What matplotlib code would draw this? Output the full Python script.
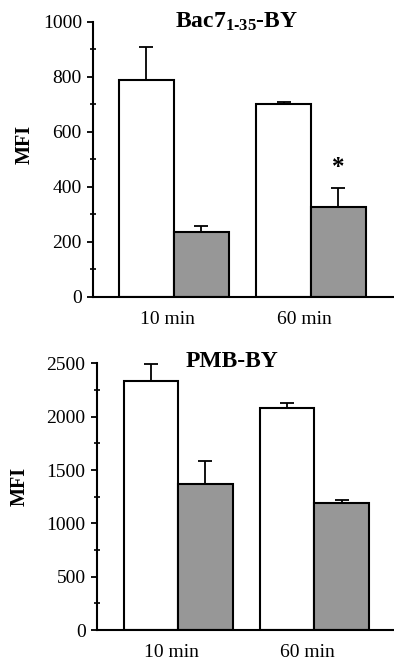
import matplotlib
matplotlib.use("Agg")
import matplotlib.pyplot as plt
import numpy as np
from matplotlib.ticker import MultipleLocator

plt.rcParams['font.family'] = ['Liberation Serif', 'DejaVu Serif']
plt.rcParams['mathtext.fontset'] = 'custom'
plt.rcParams['mathtext.rm'] = 'Liberation Serif'
plt.rcParams['mathtext.bf'] = 'Liberation Serif:bold'
plt.rcParams['mathtext.it'] = 'Liberation Serif:italic'

categories = ["10 min", "60 min"]

# Panel A: Bac7(1-35)-BY
bac_white = [790, 700]
bac_white_err = [120, 9]
bac_gray = [235, 327]
bac_gray_err = [23, 68]
bac_star_value = 472
bac_yticks = [0, 200, 400, 600, 800, 1000]

# Panel B: PMB-BY
pmb_white = [2330, 2085]
pmb_white_err = [160, 45]
pmb_gray = [1370, 1195]
pmb_gray_err = [215, 27]
pmb_yticks = [0, 500, 1000, 1500, 2000, 2500]

fig = plt.figure(figsize=(3.94, 6.6), dpi=100)
ax1 = fig.add_axes([0.236, 0.55, 0.764, 0.4167])
ax2 = fig.add_axes([0.2454, 0.04545, 0.7546, 0.404])

W = 0.4
GRAY = '#979797'


def panel(ax, white, werr, gray, gerr, yticks, minor, xlim, title, tx, ty, lab_xy):
    x = np.arange(len(categories))
    ekw = dict(ecolor='black', elinewidth=1.3, capsize=5, capthick=1.3)
    ax.bar(x - W / 2, white, W, color='white', edgecolor='black', linewidth=1.5,
           yerr=[np.zeros(len(werr)), werr], error_kw=ekw, zorder=2)
    ax.bar(x + W / 2, gray, W, color=GRAY, edgecolor='black', linewidth=1.5,
           yerr=[np.zeros(len(gerr)), gerr], error_kw=ekw, zorder=2)
    ax.set_xlim(*xlim)
    ax.set_ylim(yticks[0], yticks[-1])
    ax.set_yticks(yticks)
    ax.yaxis.set_minor_locator(MultipleLocator(minor))
    ax.set_xticks(x - 0.05)
    ax.set_xticklabels(categories, fontsize=14)
    ax.tick_params(axis='x', length=0, pad=10)
    ax.tick_params(axis='y', which='major', direction='out', length=4, width=1.3,
                   labelsize=14, pad=4)
    ax.tick_params(axis='y', which='minor', direction='inout', length=4, width=1.2)
    for s in ['top', 'right']:
        ax.spines[s].set_visible(False)
    for s in ['left', 'bottom']:
        ax.spines[s].set_linewidth(1.5)
    ax.set_ylabel('MFI', fontsize=14.5, fontweight='bold')
    ax.yaxis.set_label_coords(*lab_xy)
    ax.text(tx, ty, title, transform=ax.transAxes, ha='center', va='baseline',
            fontsize=17, fontweight='bold')


panel(ax1, bac_white, bac_white_err, bac_gray, bac_gray_err, bac_yticks, 100,
      (-0.59, 1.606), "Bac7$_{\\mathbf{1\u201135}}$-BY", 0.478, 0.978, (-0.193, 0.553))
panel(ax2, pmb_white, pmb_white_err, pmb_gray, pmb_gray_err, pmb_yticks, 250,
      (-0.6, 1.586), "PMB-BY", 0.455, 0.987, (-0.226, 0.54))

ax1.text(1 + W / 2, bac_star_value, '*', ha='center', va='center',
         fontsize=18, fontweight='bold')

fig.savefig('out.png', dpi=100)
